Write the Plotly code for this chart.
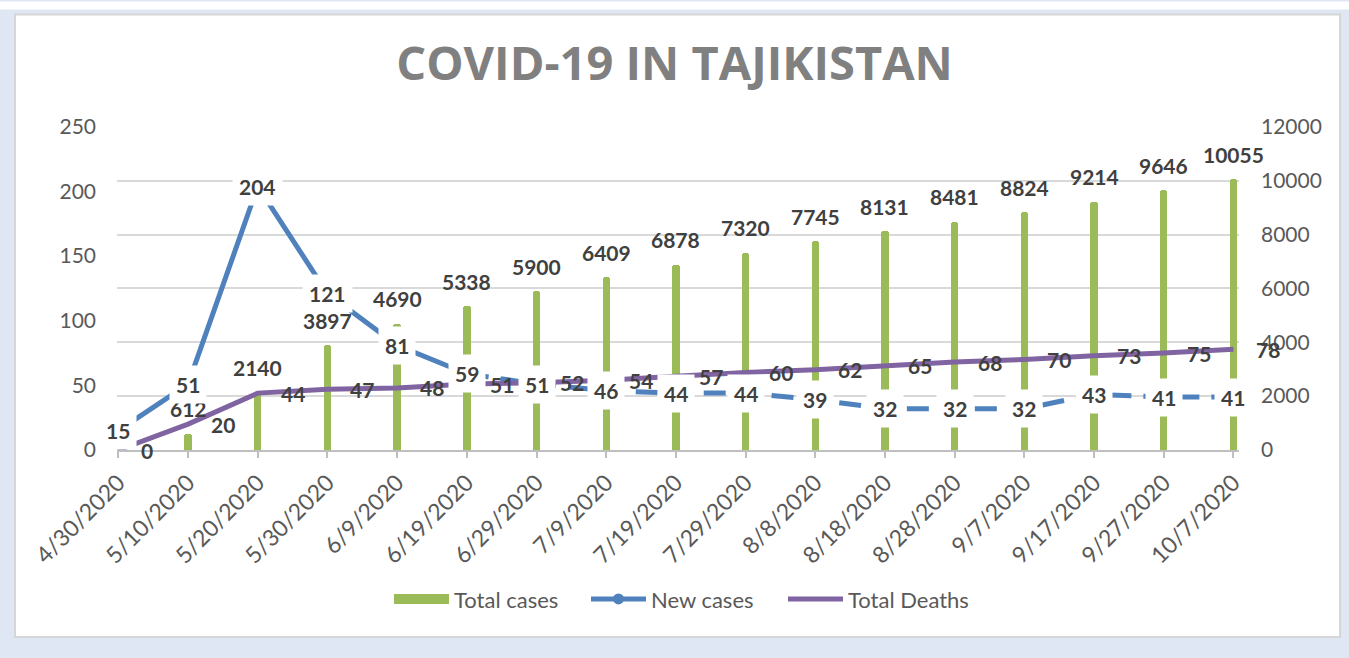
import plotly.graph_objects as go

dates = ["4/30/2020", "5/10/2020", "5/20/2020", "5/30/2020", "6/9/2020", "6/19/2020",
         "6/29/2020", "7/9/2020", "7/19/2020", "7/29/2020", "8/8/2020", "8/18/2020",
         "8/28/2020", "9/7/2020", "9/17/2020", "9/27/2020", "10/7/2020"]
total_cases = [15, 612, 2140, 3897, 4690, 5338, 5900, 6409, 6878, 7320, 7745, 8131,
               8481, 8824, 9214, 9646, 10055]
new_cases = [15, 51, 204, 121, 81, 59, 51, 46, 44, 44, 39, 32, 32, 32, 43, 41, 41]
total_deaths = [0, 20, 44, 47, 48, 51, 52, 54, 57, 60, 62, 65, 68, 70, 73, 75, 78]
solid_until = 5  # index where the New cases line turns dashed

GREEN = "#9bbb59"
BLUE = "#4f81bd"
PURPLE = "#8064a2"
LABEL = "#404040"
AXIS_TXT = "#595959"
FONT = "Lato"
BG = "#e0e7f4"

fig = go.Figure()

fig.add_trace(go.Bar(
    x=dates, y=total_cases, name="Total cases", yaxis="y",
    marker=dict(color=GREEN, cornerradius=3, line=dict(width=0)),
    width=0.105, showlegend=False,
))
# legend entry for the bars (wide green swatch like the original)
fig.add_trace(go.Scatter(
    x=[None], y=[None], yaxis="y", name="Total cases",
    mode="lines", line=dict(color=GREEN, width=15), legendrank=1,
))

fig.add_trace(go.Scatter(
    x=dates[:solid_until + 1], y=new_cases[:solid_until + 1], yaxis="y2",
    mode="lines", line=dict(color=BLUE, width=5), showlegend=False,
))
fig.add_trace(go.Scatter(
    x=dates[solid_until:], y=new_cases[solid_until:], yaxis="y2",
    mode="lines", line=dict(color=BLUE, width=5, dash="22px,12px"), showlegend=False,
))
fig.add_trace(go.Scatter(
    x=[None], y=[None], yaxis="y2", name="New cases",
    mode="lines+markers", line=dict(color=BLUE, width=5),
    marker=dict(color=BLUE, size=11), legendrank=2,
))
fig.add_trace(go.Scatter(
    x=dates, y=total_deaths, yaxis="y2", name="Total Deaths",
    mode="lines", line=dict(color=PURPLE, width=5), legendrank=3,
))

annotations = []
lab_font = dict(family=FONT, size=21, color=LABEL, weight="bold")
for d, v in zip(dates, total_cases):
    annotations.append(dict(x=d, y=v, xref="x", yref="y", text=str(v), showarrow=False,
                            yanchor="middle", yshift=25, font=lab_font))
for d, v in zip(dates, total_deaths):
    annotations.append(dict(x=d, y=v, xref="x", yref="y2", text=str(v), showarrow=False,
                            xanchor="left", xshift=21, yanchor="middle", font=lab_font))
for d, v in zip(dates, new_cases):
    annotations.append(dict(x=d, y=v, xref="x", yref="y2", text=str(v), showarrow=False,
                            xanchor="center", yanchor="middle", bgcolor="white",
                            borderpad=6, font=lab_font))

W, H = 1349, 658
L, R, B = 117, 1239, 450.5
Y_TOP_RIGHT, Y_TOP_LEFT = 12030, 250 * 12030 / 12000
T = B - 324 * Y_TOP_RIGHT / 12000
pw, ph = R - L, B - T


def px(x):
    return (x - L) / pw


def py(y):
    return (B - y) / ph


shapes = [
    dict(type="rect", xref="paper", yref="paper", layer="below",
         x0=px(0), x1=px(W), y0=py(9), y1=py(1), fillcolor="white", line=dict(width=0)),
    dict(type="rect", xref="paper", yref="paper", layer="below",
         x0=px(15), x1=px(1340), y0=py(638), y1=py(14), fillcolor="white",
         line=dict(color="#d6d6d6", width=2)),
]

fig.update_layout(
    width=W, height=H,
    margin=dict(l=L, r=W - R, t=T, b=H - B, autoexpand=False),
    paper_bgcolor=BG,
    plot_bgcolor="white",
    title=dict(text="COVID-19 IN TAJIKISTAN", x=0.5, xanchor="center",
               y=1 - 64 / H, yanchor="middle",
               font=dict(family="Open Sans", size=47, color="#808080", weight="bold")),
    font=dict(family=FONT, size=21, color=AXIS_TXT),
    showlegend=True,
    legend=dict(orientation="h", x=px(389), xanchor="left", y=py(600), yanchor="middle",
                font=dict(family=FONT, size=22, color=AXIS_TXT), bgcolor="rgba(0,0,0,0)",
                traceorder="normal", itemwidth=55, entrywidth=127,
                entrywidthmode="pixels"),
    bargap=0,
    xaxis=dict(type="category", range=[-0.02, 16.08], showgrid=False,
               showline=True, linecolor="#bfbfbf", linewidth=2,
               ticks="outside", ticklen=6, tickwidth=2, tickcolor="#bfbfbf",
               tickangle=-45, tickfont=dict(family=FONT, size=23, color=AXIS_TXT),
               ticklabelstandoff=2, fixedrange=True),
    yaxis=dict(side="right", range=[0, Y_TOP_RIGHT], dtick=2000, tickformat="d",
               showgrid=True, gridcolor="#d9d9d9", gridwidth=1.5, zeroline=False,
               showline=False, tickfont=dict(family=FONT, size=21, color=AXIS_TXT),
               ticklabelstandoff=21),
    yaxis2=dict(overlaying="y", side="left", range=[0, Y_TOP_LEFT], dtick=50,
                tickformat="d", showgrid=False, zeroline=False, showline=False,
                tickfont=dict(family=FONT, size=21, color=AXIS_TXT),
                ticklabelstandoff=20),
    annotations=annotations,
    shapes=shapes,
)

fig.write_html(
    "out.html",
    config={"displayModeBar": False},
    post_script=("document.body.style.margin='0';document.body.style.padding='0';"
                 "document.body.style.background='" + BG + "';"
                 "document.documentElement.style.overflow='hidden';"),
)
